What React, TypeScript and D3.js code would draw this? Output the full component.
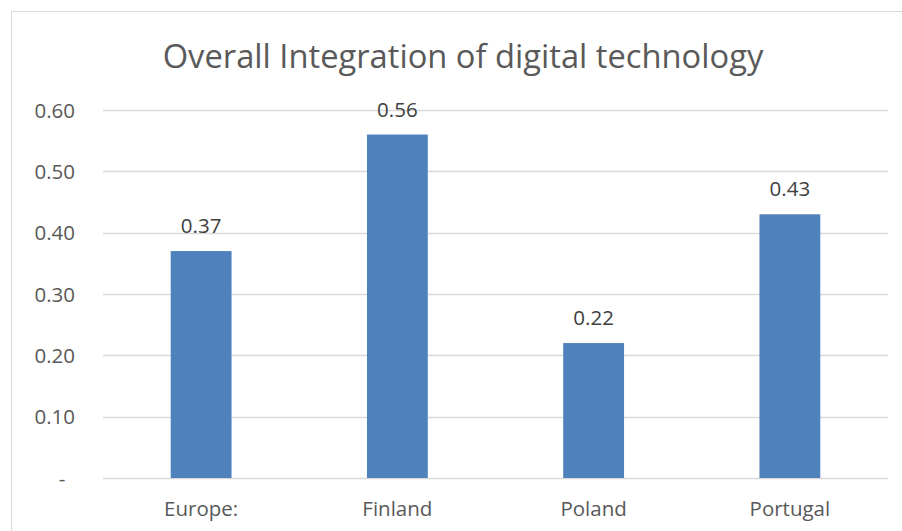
import { useRef, useEffect } from 'react';
import * as d3 from 'd3';

const categories = ['Europe:', 'Finland', 'Poland', 'Portugal'];
const values = [0.37, 0.56, 0.22, 0.43];
const yTicks = [0, 0.1, 0.2, 0.3, 0.4, 0.5, 0.6];
const title = 'Overall Integration of digital technology';

const W = 902;
const H = 531;
const FONT = '"Open Sans", "Liberation Sans", sans-serif';

export default function App() {
  const svgRef = useRef<SVGSVGElement>(null);

  useEffect(() => {
    const svg = d3.select(svgRef.current);
    svg.selectAll('*').remove();

    const left = 103, right = 888, top = 110, bottom = 478;

    const x = d3.scaleBand<string>().domain(categories).range([left, right]).paddingInner(0.69).paddingOuter(0.345);
    const y = d3.scaleLinear().domain([0, 0.6]).range([bottom, top]);

    svg.append('rect').attr('x', 0).attr('y', 0).attr('width', W).attr('height', H).attr('fill', '#fff');
    // chart frame
    svg.append('rect').attr('x', 11.5).attr('y', 11.5).attr('width', 920).attr('height', 540)
      .attr('fill', 'none').attr('stroke', '#d9d9d9').attr('stroke-width', 1);

    svg.append('text').attr('x', 463).attr('y', 68).attr('text-anchor', 'middle')
      .attr('fill', '#595959').attr('font-size', '32.7px').attr('font-family', FONT)
      .text(title);

    // gridlines + tick labels
    const g = svg.append('g');
    yTicks.forEach((t) => {
      const yy = Math.round(y(t)) + 0.5;
      g.append('line').attr('x1', left).attr('x2', right).attr('y1', yy).attr('y2', yy)
        .attr('stroke', '#d9d9d9').attr('stroke-width', 1.3);
      g.append('text').attr('x', t === 0 ? 62 : 75).attr('y', y(t) + 7.5)
        .attr('text-anchor', t === 0 ? 'middle' : 'end')
        .attr('fill', '#595959').attr('font-size', '20.5px').attr('font-family', FONT)
        .text(t === 0 ? '-' : t.toFixed(2));
    });

    // bars
    svg.append('g').selectAll('rect').data(values).join('rect')
      .attr('x', (_, i) => x(categories[i])!)
      .attr('y', (d) => y(d))
      .attr('width', x.bandwidth())
      .attr('height', (d) => bottom - y(d))
      .attr('fill', '#4f81bd');

    // data labels
    svg.append('g').selectAll('text').data(values).join('text')
      .attr('x', (_, i) => x(categories[i])! + x.bandwidth() / 2)
      .attr('y', (d) => y(d) - 18)
      .attr('text-anchor', 'middle')
      .attr('fill', '#404040').attr('font-size', '20.5px').attr('font-family', FONT)
      .text((d) => d.toFixed(2));

    // category labels
    svg.append('g').selectAll('text').data(categories).join('text')
      .attr('x', (d) => x(d)! + x.bandwidth() / 2)
      .attr('y', 516)
      .attr('text-anchor', 'middle')
      .attr('fill', '#595959').attr('font-size', '20.5px').attr('font-family', FONT)
      .text((d) => d);
  }, []);

  return (
    <svg ref={svgRef} width={W} height={H} viewBox={`0 0 ${W} ${H}`}
      style={{ position: 'absolute', left: 0, top: 0, display: 'block' }} />
  );
}
